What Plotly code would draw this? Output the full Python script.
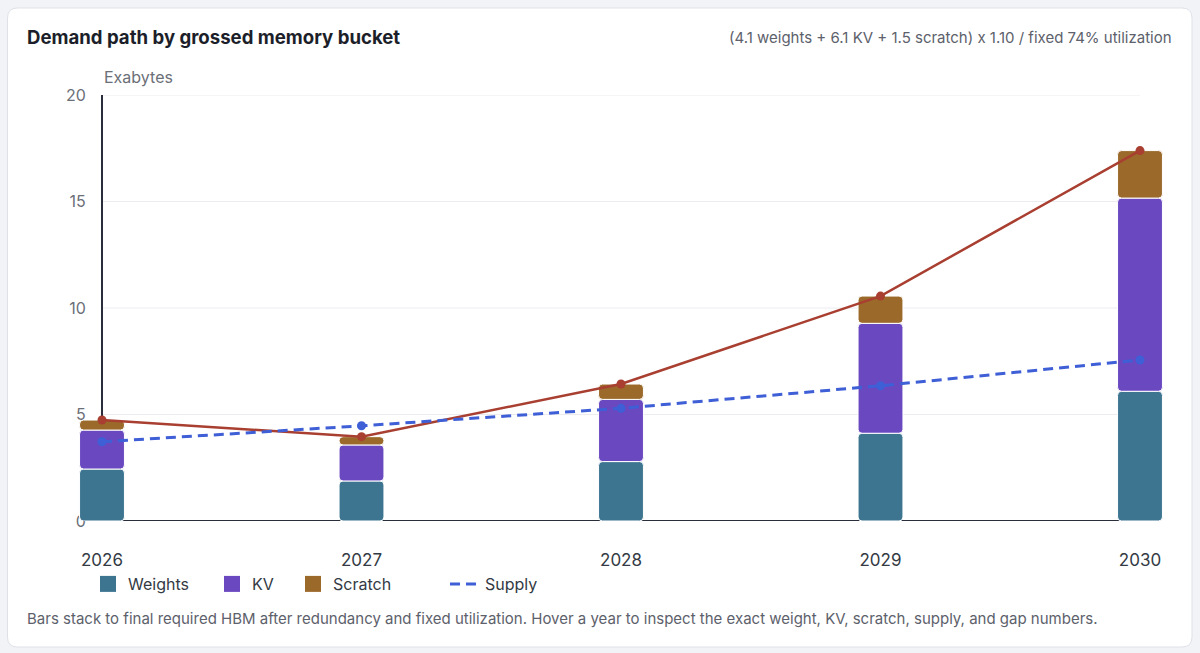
import plotly.graph_objects as go

years = [2026, 2027, 2028, 2029, 2030]
weights = [2.44, 1.88, 2.79, 4.12, 6.09]
kv = [1.83, 1.69, 2.92, 5.16, 9.07]
scratch = [0.47, 0.39, 0.72, 1.28, 2.23]
demand = [4.74, 3.96, 6.43, 10.56, 17.39]
supply = [3.72, 4.47, 5.29, 6.35, 7.56]
year_labels = ["2026", "2027", "2028", "2029", "2030"]
y_ticks = [0, 5, 10, 15, 20]

C_W = "#3d7590"
C_KV = "#6a48c0"
C_S = "#9b6a2b"
C_D = "#a83f30"
C_SUP = "#3f5fd6"
AXIS = "#2a2e3a"
FONT = "Inter"

W, H = 1200, 653
L, R, T, B = 76, 34, 95, 132
PW, PH = W - L - R, H - T - B
AX_L, AX_R = 102, 1140          # pixel span of first/last year
PER_YEAR = (AX_R - AX_L) / (years[-1] - years[0])
xr0 = years[0] - (AX_L - L) / PER_YEAR
xr1 = years[-1] + (W - R - AX_R) / PER_YEAR


def pxx(p):
    return (p - L) / PW


def pxy(p):
    return (H - B - p) / PH


base_kv = [a for a in weights]
base_s = [a + b for a, b in zip(weights, kv)]

fig = go.Figure()
bw = 0.173
common = dict(width=bw, hoverinfo="skip", showlegend=False)
fig.add_trace(go.Bar(x=years, y=weights, base=[0] * 5, name="Weights",
                     marker=dict(color=C_W, cornerradius=4, line=dict(color="white", width=1)), **common))
fig.add_trace(go.Bar(x=years, y=kv, base=base_kv, name="KV",
                     marker=dict(color=C_KV, cornerradius=4, line=dict(color="white", width=1)), **common))
fig.add_trace(go.Bar(x=years, y=scratch, base=base_s, name="Scratch",
                     marker=dict(color=C_S, cornerradius=4, line=dict(color="white", width=1)), **common))
fig.add_trace(go.Scatter(x=years, y=demand, mode="lines+markers", name="Demand",
                         line=dict(color=C_D, width=2.5), marker=dict(size=9, color=C_D),
                         showlegend=False))
fig.add_trace(go.Scatter(x=years, y=supply, mode="lines", name="Supply",
                         line=dict(color=C_SUP, width=3, dash="10px,6px"),
                         legend="legend4"))
fig.add_trace(go.Scatter(x=years, y=supply, mode="markers", name="Supply",
                         marker=dict(size=9, color=C_SUP), showlegend=False))

# legend entries for the bar buckets (square swatches)
for name, col, leg in [("Weights", C_W, "legend"), ("KV", C_KV, "legend2"), ("Scratch", C_S, "legend3")]:
    fig.add_trace(go.Scatter(x=[None], y=[None], mode="markers", name=name, legend=leg,
                             marker=dict(symbol="square", size=16, color=col)))

# card background
x0, x1 = pxx(7.5), pxx(1192)
y0, y1 = pxy(647), pxy(8)
rx, ry = 10 / PW, 10 / PH
card = (f"M{x0+rx},{y0} L{x1-rx},{y0} Q{x1},{y0} {x1},{y0+ry} L{x1},{y1-ry} "
        f"Q{x1},{y1} {x1-rx},{y1} L{x0+rx},{y1} Q{x0},{y1} {x0},{y1-ry} "
        f"L{x0},{y0+ry} Q{x0},{y0} {x0+rx},{y0} Z")
fig.add_shape(type="path", path=card, xref="paper", yref="paper",
              fillcolor="white", line=dict(color="#dfe1e7", width=1), layer="below")

# horizontal gridlines spanning first to last year
for t in y_ticks[1:]:
    fig.add_shape(type="line", xref="x", yref="y", x0=years[0], x1=years[-1], y0=t, y1=t,
                  line=dict(color="#ececf0", width=1), layer="below")
# x axis baseline
fig.add_shape(type="line", xref="x", yref="y", x0=years[0], x1=years[-1], y0=0, y1=0,
              line=dict(color=AXIS, width=2), layer="below")

leg_common = dict(orientation="h", xanchor="left", yanchor="middle",
                  font=dict(family=FONT, size=16, color="#333a44"),
                  bgcolor="rgba(0,0,0,0)", borderwidth=0)
fig.update_layout(
    width=W, height=H,
    margin=dict(l=L, r=R, t=T, b=B, pad=0),
    paper_bgcolor="#f2f3f7", plot_bgcolor="rgba(0,0,0,0)",
    barmode="overlay",
    font=dict(family=FONT),
    showlegend=True,
    legend=dict(x=pxx(88), y=pxy(584), **leg_common),
    legend2=dict(x=pxx(212), y=pxy(584), **leg_common),
    legend3=dict(x=pxx(293), y=pxy(584), **leg_common),
    legend4=dict(x=pxx(445), y=pxy(584), **leg_common),
    xaxis=dict(range=[xr0, xr1], tickvals=years, ticktext=year_labels,
               showgrid=False, zeroline=False, showline=False,
               ticks="", ticklabelstandoff=27,
               tickfont=dict(family=FONT, size=17, color="#333a44")),
    yaxis=dict(range=[0, 20], tickvals=y_ticks, showgrid=False,
               anchor="free", position=pxx(AX_L),
               zeroline=False, showline=True, linecolor=AXIS, linewidth=2,
               ticks="", ticklabelstandoff=12,
               tickfont=dict(family=FONT, size=16, color="#6b6f78"), layer="below traces"),
    hovermode=False,
)

fig.add_annotation(text="<b>Demand path by grossed memory bucket</b>", x=pxx(25), y=pxy(37),
                   xref="paper", yref="paper", xanchor="left", yanchor="middle", showarrow=False,
                   font=dict(family=FONT, size=18.6, color="#1c1f2a"))
fig.add_annotation(text="(4.1 weights + 6.1 KV + 1.5 scratch) x 1.10 / fixed 74% utilization",
                   x=pxx(1174), y=pxy(38), xref="paper", yref="paper", xanchor="right",
                   yanchor="middle", showarrow=False,
                   font=dict(family=FONT, size=15, color="#5d616b"))
fig.add_annotation(text="Exabytes", x=pxx(102), y=pxy(77), xref="paper", yref="paper",
                   xanchor="left", yanchor="middle", showarrow=False,
                   font=dict(family=FONT, size=16, color="#6b6f78"))
fig.add_annotation(text=("Bars stack to final required HBM after redundancy and fixed utilization. "
                         "Hover a year to inspect the exact weight, KV, scratch, supply, and gap numbers."),
                   x=pxx(25), y=pxy(618), xref="paper", yref="paper", xanchor="left",
                   yanchor="middle", showarrow=False,
                   font=dict(family=FONT, size=15, color="#5d616b"))

fig.write_html("out.html")
